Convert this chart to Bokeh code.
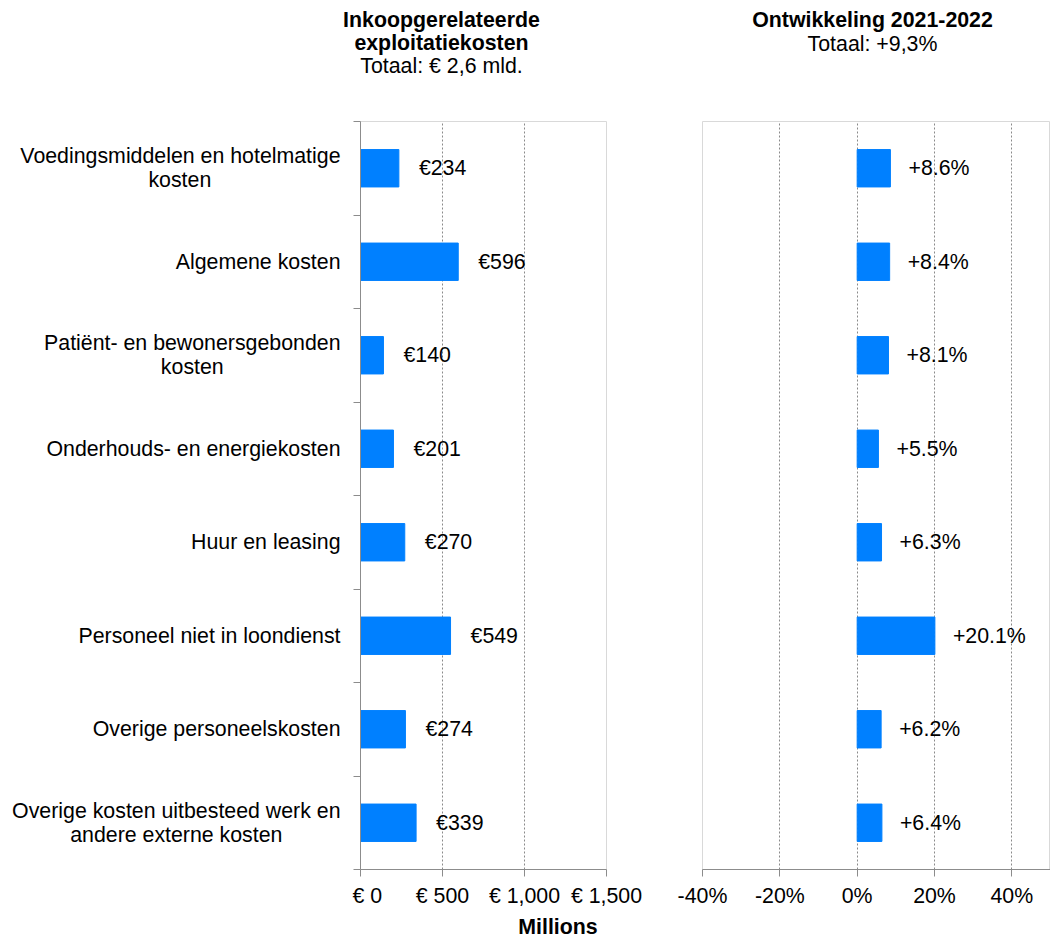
from bokeh.plotting import figure
from bokeh.models import Range1d, FixedTicker, ColumnDataSource
from bokeh.layouts import row, column
from bokeh.embed import file_html
from bokeh.resources import INLINE
from bokeh.core.properties import value

# ---------------- data ----------------
categories = [
    "Voedingsmiddelen en hotelmatige\nkosten",
    "Algemene kosten",
    "Patiënt- en bewonersgebonden\nkosten",
    "Onderhouds- en energiekosten",
    "Huur en leasing",
    "Personeel niet in loondienst",
    "Overige personeelskosten",
    "Overige kosten uitbesteed werk en\nandere externe kosten",
]
costs_mln = [234, 596, 140, 201, 270, 549, 274, 339]
growth_pct = [8.6, 8.4, 8.1, 5.5, 6.3, 20.1, 6.2, 6.4]
cost_ticks = [0, 500, 1000, 1500]
cost_tick_labels = ["€ 0", "€ 500", "€ 1,000", "€ 1,500"]
growth_ticks = [-40, -20, 0, 20, 40]
growth_tick_labels = ["-40%", "-20%", "0%", "20%", "40%"]
left_title = ["Inkoopgerelateerde", "exploitatiekosten"]
left_subtitle = "Totaal: € 2,6 mld."
right_title = "Ontwikkeling 2021-2022"
right_subtitle = "Totaal: +9,3%"
x_axis_label = "Millions"

# ---------------- style ----------------
FONT = "Liberation Sans"
FS_PX = 21.33
FS = "21.33px"
BAR = "#0080FF"
AXIS = "#8c8c8c"
OUTLINE = "#d9d9d9"
GRID = "#8a8a8a"
TXT = "#000000"

TOTAL_W = 1050
TITLE_H = 113
BOTTOM_H = 30
MID_H = 797
TOP_B, BOT_B = 8, 40
FRAME_H = MID_H - TOP_B - BOT_B
LINE_H = 24
LABEL_W = 352
P1_W, P2_W = 320, 378

# Arial / Liberation Sans advance widths (1/1000 em)
W = {' ': 278, '-': 333, 'A': 667, 'H': 722, 'O': 778, 'P': 667, 'V': 667,
     'a': 556, 'b': 556, 'c': 500, 'd': 556, 'e': 556, 'ë': 556, 'f': 278,
     'g': 556, 'h': 556, 'i': 222, 'j': 222, 'k': 500, 'l': 222, 'm': 833,
     'n': 556, 'o': 556, 'p': 556, 'q': 556, 'r': 333, 's': 500, 't': 278,
     'u': 556, 'v': 500, 'w': 722, 'x': 500, 'y': 500, 'z': 500}


def text_w(s):
    return sum(W.get(c, 556) for c in s) * FS_PX / 1000.0


n = len(categories)
centers = [n - i - 0.5 for i in range(n)]
px_per_unit = FRAME_H / n
y_range = Range1d(0, n)


def blank(fig):
    fig.outline_line_color = None
    fig.background_fill_color = "white"
    fig.border_fill_color = "white"
    fig.grid.visible = False


def style_chart(p):
    p.outline_line_color = OUTLINE
    p.outline_line_width = 1
    p.background_fill_color = "white"
    p.border_fill_color = "white"
    p.ygrid.visible = False
    p.xaxis.axis_line_color = AXIS
    p.xaxis.major_tick_line_color = AXIS
    p.xaxis.major_tick_out = 7
    p.xaxis.major_tick_in = 0
    p.xaxis.minor_tick_out = 0
    p.xaxis.minor_tick_in = 0
    p.xaxis.major_label_text_font = FONT
    p.xaxis.major_label_text_font_size = FS
    p.xaxis.major_label_text_color = TXT
    p.xaxis.major_label_standoff = 7
    p.xgrid.grid_line_color = GRID
    p.xgrid.grid_line_dash = "2 2"
    p.xgrid.grid_line_width = 1


# ---------------- title strip ----------------
T = figure(width=TOTAL_W, height=TITLE_H, output_backend="svg", toolbar_location=None,
           x_axis_type=None, y_axis_type=None, min_border=0,
           x_range=Range1d(0, TOTAL_W), y_range=Range1d(TITLE_H, 0))
blank(T)
T.text(x=[441, 441, 872], y=[19, 42.5, 19.5], text=[left_title[0], left_title[1], right_title],
       text_font=value(FONT), text_font_size=FS, text_color=TXT, text_font_style="bold",
       text_align="center", text_baseline="alphabetic")
T.text(x=[441, 872], y=[65.5, 43], text=[left_subtitle, right_subtitle],
       text_font=value(FONT), text_font_size=FS, text_color=TXT,
       text_align="center", text_baseline="alphabetic")

# ---------------- category label column ----------------
L = figure(width=LABEL_W, height=MID_H, output_backend="svg", toolbar_location=None,
           x_axis_type=None, y_axis_type=None,
           min_border_left=0, min_border_right=0, min_border_top=TOP_B, min_border_bottom=BOT_B,
           x_range=Range1d(0, LABEL_W), y_range=y_range)
blank(L)
RIGHT_EDGE = 340
rx, ry, rt, cx, cy, ct = [], [], [], [], [], []
for yc, cat in zip(centers, categories):
    lines = cat.split("\n")
    wmax = max(text_w(s) for s in lines)
    k_mid = (len(lines) - 1) / 2.0
    for k, s in enumerate(lines):
        y = yc + (k_mid - k) * LINE_H / px_per_unit
        if text_w(s) == wmax:
            rx.append(RIGHT_EDGE); ry.append(y); rt.append(s)
        else:
            cx.append(RIGHT_EDGE - wmax / 2.0); cy.append(y); ct.append(s)
L.text(x=rx, y=ry, text=rt, text_font=value(FONT), text_font_size=FS, text_color=TXT,
       text_align="right", text_baseline="middle")
L.text(x=cx, y=cy, text=ct, text_font=value(FONT), text_font_size=FS, text_color=TXT,
       text_align="center", text_baseline="middle")

# ---------------- left chart ----------------
p1 = figure(width=P1_W, height=MID_H, output_backend="svg", toolbar_location=None,
            x_range=Range1d(0, 1500), y_range=y_range,
            min_border_left=8, min_border_right=66,
            min_border_top=TOP_B, min_border_bottom=BOT_B)
style_chart(p1)
p1.xaxis.ticker = FixedTicker(ticks=cost_ticks)
p1.xaxis.major_label_overrides = {t: l for t, l in zip(cost_ticks, cost_tick_labels)}
p1.xgrid.ticker = FixedTicker(ticks=cost_ticks[1:-1])

p1.yaxis.ticker = FixedTicker(ticks=[], minor_ticks=list(range(n + 1)))
p1.yaxis.axis_line_color = AXIS
p1.yaxis.major_tick_out = 0
p1.yaxis.major_tick_in = 0
p1.yaxis.minor_tick_line_color = AXIS
p1.yaxis.minor_tick_out = 7
p1.yaxis.minor_tick_in = 0

src1 = ColumnDataSource(dict(y=centers, v=costs_mln,
                             lab=["€%d" % v for v in costs_mln]))
p1.hbar(y="y", left=0, right="v", height=0.4, source=src1,
        fill_color=BAR, line_color=BAR)
p1.text(x="v", y="y", text="lab", source=src1, x_offset=20,
        text_font=value(FONT), text_font_size=FS, text_color=TXT,
        text_align="left", text_baseline="middle")

# ---------------- right chart ----------------
p2 = figure(width=P2_W, height=MID_H, output_backend="svg", toolbar_location=None,
            x_range=Range1d(-40, 50), y_range=y_range, y_axis_type=None,
            min_border_left=30, min_border_right=0,
            min_border_top=TOP_B, min_border_bottom=BOT_B)
style_chart(p2)
p2.xaxis.ticker = FixedTicker(ticks=growth_ticks)
p2.xaxis.major_label_overrides = {t: l for t, l in zip(growth_ticks, growth_tick_labels)}
p2.xgrid.ticker = FixedTicker(ticks=growth_ticks[1:])

src2 = ColumnDataSource(dict(y=centers, v=growth_pct,
                             lab=["+%.1f%%" % v for v in growth_pct]))
p2.hbar(y="y", left=0, right="v", height=0.4, source=src2,
        fill_color=BAR, line_color=BAR)
p2.text(x="v", y="y", text="lab", source=src2, x_offset=18,
        text_font=value(FONT), text_font_size=FS, text_color=TXT,
        text_align="left", text_baseline="middle")

# ---------------- bottom strip (axis title) ----------------
B = figure(width=TOTAL_W, height=BOTTOM_H, output_backend="svg", toolbar_location=None,
           x_axis_type=None, y_axis_type=None, min_border=0,
           x_range=Range1d(0, TOTAL_W), y_range=Range1d(BOTTOM_H, 0))
blank(B)
B.text(x=[557.5], y=[16.5], text=[x_axis_label], text_font=value(FONT), text_font_size=FS,
       text_color=TXT, text_font_style="bold", text_align="center",
       text_baseline="alphabetic")

layout = column(T, row(L, p1, p2), B)
open("out.html", "w").write(file_html(layout, INLINE))
